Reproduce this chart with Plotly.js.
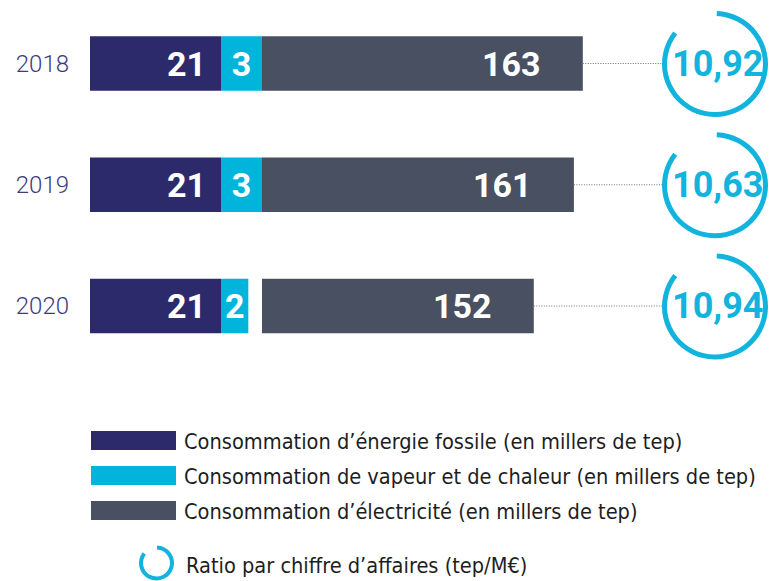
<!DOCTYPE html>
<html><head><meta charset="utf-8">
<script src="https://cdn.plot.ly/plotly-3.0.1.min.js"></script>
<style>html,body{margin:0;padding:0;background:#fff}</style>
</head><body><div id="chart" style="width:769px;height:581px"></div>
<script>
// ---- data ----
const years = ['2018', '2019', '2020'];
const fossile = [21, 21, 21];
const vapeur = [3, 3, 2];
const electricite = [163, 161, 152];
const ratio = [10.92, 10.63, 10.94];
const seriesNames = [
  'Consommation d’énergie fossile (en millers de tep)',
  'Consommation de vapeur et de chaleur (en millers de tep)',
  'Consommation d’électricité (en millers de tep)'
];
const ratioName = 'Ratio par chiffre d’affaires (tep/M€)';

// ---- style / layout constants ----
const W = 769, H = 581;
const colors = ['#2d2a6b', '#00b4dc', '#485062'];
const ringColor = '#12b4de';
const px = v => v / W;
const py = v => 1 - v / H;
const yTop = 2.9, yStep = 121.25;
const ringCx = 715, ringR = 53;
const RING_ARC = 0.85;
const elecRange = [91, 181];
const numFont = {family: 'Roboto', size: 34, weight: 700, color: '#ffffff'};
const legFont = {family: 'DejaVu Sans Condensed, DejaVu Sans', size: 21.6, stretch: 'condensed', color: '#1e1e1e'};
const fr = v => v.toFixed(2).replace('.', ',');

const traces = [
  {type: 'bar', orientation: 'h', x: fossile, y: years, xaxis: 'x', yaxis: 'y',
   width: 0.45, marker: {color: colors[0], line: {width: 0}}, name: seriesNames[0], hoverinfo: 'skip'},
  {type: 'bar', orientation: 'h', x: vapeur, y: years, xaxis: 'x2', yaxis: 'y',
   width: 0.45, marker: {color: colors[1], line: {width: 0}}, name: seriesNames[1], hoverinfo: 'skip',
   text: vapeur.map(String), textposition: 'inside', insidetextanchor: 'middle',
   constraintext: 'none', textfont: numFont, insidetextfont: numFont},
  {type: 'bar', orientation: 'h', x: electricite, y: years, xaxis: 'x3', yaxis: 'y',
   width: 0.45, marker: {color: colors[2], line: {width: 0}}, name: seriesNames[2], hoverinfo: 'skip'}
];

// dotted connectors from the end of each bar to the ring
const lx = [], ly = [];
electricite.forEach((v, i) => { lx.push(v, elecRange[1], null); ly.push(years[i], years[i], null); });
traces.push({type: 'scatter', mode: 'lines', x: lx, y: ly, xaxis: 'x3', yaxis: 'y',
  line: {color: '#6a6f7e', width: 1, dash: '1px,1.5px'}, hoverinfo: 'skip', showlegend: false, cliponaxis: false});

// rings (donuts)
function ring(cx, cy, r, hole) {
  return {type: 'pie', values: [RING_ARC, 1 - RING_ARC], sort: false, direction: 'clockwise', rotation: 2,
    hole: hole, textinfo: 'none', hoverinfo: 'skip', showlegend: false,
    marker: {colors: [ringColor, 'rgba(0,0,0,0)'], line: {width: 0}},
    domain: {x: [px(cx - r), px(cx + r)], y: [py(cy + r), py(cy - r)]}};
}
ratio.forEach((v, i) => {
  const cy = yTop + (i + 0.5) * yStep + 0.5;
  traces.push(ring(ringCx, cy, ringR, 0.905));
});
traces.push(ring(156.5, 563, 17.5, 0.77));

const annotations = [];
years.forEach((yr, i) => {
  annotations.push({xref: 'x', yref: 'y', x: fossile[i] * 0.999, y: i, xanchor: 'right', xshift: -13,
    text: String(fossile[i]), showarrow: false, font: numFont});
  annotations.push({xref: 'x3', yref: 'y', x: electricite[i], y: i, xanchor: 'right', xshift: -40,
    text: String(electricite[i]), showarrow: false, font: numFont});
  annotations.push({xref: 'paper', yref: 'y', x: px(ringCx + 2), y: i, xanchor: 'center',
    text: fr(ratio[i]), showarrow: false, font: {family: 'Roboto', size: 36, weight: 700, color: ringColor}});
});

// custom legend
const legRows = [[431, 450], [466, 485], [501, 520]];
const shapes = [];
seriesNames.forEach((n, i) => {
  shapes.push({type: 'rect', xref: 'paper', yref: 'paper', x0: px(91), x1: px(176),
    y0: py(legRows[i][1]), y1: py(legRows[i][0]), fillcolor: colors[i], line: {width: 0}});
  annotations.push({xref: 'paper', yref: 'paper', x: px(182), y: py((legRows[i][0] + legRows[i][1]) / 2 + 1),
    xanchor: 'left', yanchor: 'middle', text: n, showarrow: false, font: legFont});
});
annotations.push({xref: 'paper', yref: 'paper', x: px(184), y: py(565), xanchor: 'left', yanchor: 'middle',
  text: ratioName, showarrow: false, font: legFont});

const hidden = {visible: false, showgrid: false, zeroline: false, fixedrange: true, anchor: 'y'};
const layout = {
  width: W, height: H, margin: {l: 0, r: 0, t: 0, b: 0},
  paper_bgcolor: '#ffffff', plot_bgcolor: 'rgba(0,0,0,0)',
  showlegend: false, hovermode: false, barmode: 'overlay',
  xaxis: Object.assign({}, hidden, {domain: [px(90), px(221)], range: [0, 21]}),
  xaxis2: Object.assign({}, hidden, {domain: [px(221), px(262)], range: [0, 3]}),
  xaxis3: Object.assign({}, hidden, {domain: [px(262), px(663)], range: elecRange}),
  yaxis: {type: 'category', categoryarray: years, categoryorder: 'array', range: [2.5, -0.5],
    domain: [py(yTop + 3 * yStep), py(yTop)], anchor: 'x', showgrid: false, zeroline: false,
    showline: false, ticks: '', ticklabelstandoff: 20, automargin: false, fixedrange: true,
    tickfont: {family: 'Roboto', size: 24, weight: 300, color: '#3d3b7c'}},
  annotations: annotations, shapes: shapes
};
Plotly.newPlot('chart', traces, layout, {displayModeBar: false, staticPlot: true});
</script></body></html>
